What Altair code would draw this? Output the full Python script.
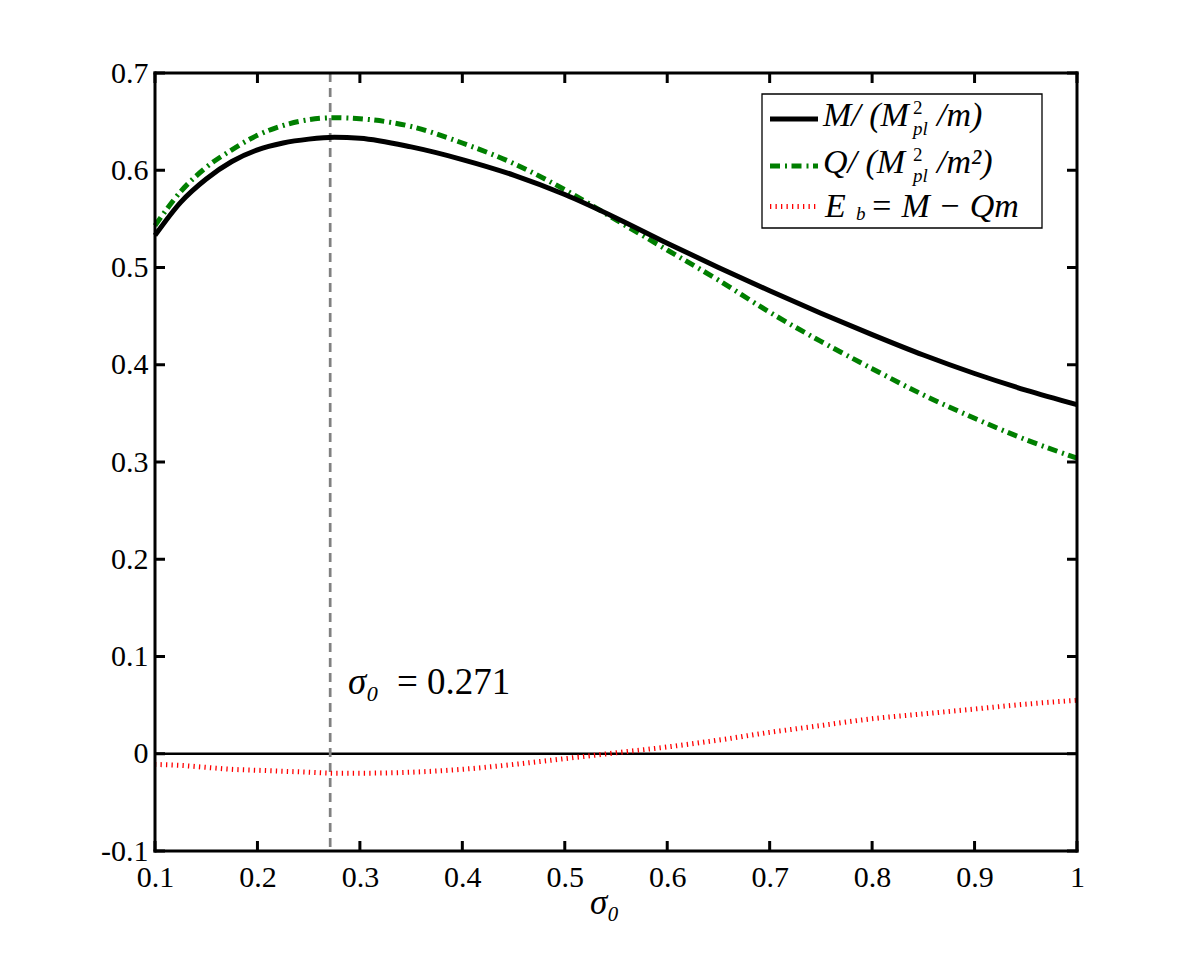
import altair as alt
import pandas as pd

# ---- data ----
sigma = [0.10, 0.125, 0.15, 0.175, 0.20, 0.225, 0.25, 0.275, 0.30, 0.35, 0.40, 0.45,
         0.50, 0.55, 0.60, 0.65, 0.70, 0.75, 0.80, 0.85, 0.90, 0.95, 1.00]
mass = [0.533, 0.567, 0.591, 0.609, 0.621, 0.628, 0.632, 0.634, 0.633, 0.624, 0.611, 0.595,
        0.575, 0.551, 0.525, 0.500, 0.476, 0.453, 0.431, 0.410, 0.391, 0.374, 0.359]
charge = [0.543, 0.578, 0.603, 0.621, 0.636, 0.646, 0.652, 0.654, 0.653, 0.645, 0.628, 0.607,
          0.580, 0.549, 0.518, 0.487, 0.454, 0.424, 0.396, 0.369, 0.345, 0.323, 0.304]
binding = [-0.011, -0.012, -0.014, -0.016, -0.017, -0.018, -0.019, -0.020, -0.020, -0.019, -0.016, -0.011,
           -0.005, 0.001, 0.007, 0.014, 0.022, 0.029, 0.036, 0.041, 0.046, 0.051, 0.055]
x_ticks = [0.1, 0.2, 0.3, 0.4, 0.5, 0.6, 0.7, 0.8, 0.9, 1.0]
y_ticks = [-0.1, 0.0, 0.1, 0.2, 0.3, 0.4, 0.5, 0.6, 0.7]
sigma_star = [0.271]
zero_level = [0.0]

# text pieces (legend, annotation, axis title): text, pixel x, pixel baseline y, font size
italic_text = ["M/ (M", "pl", "/m)", "Q/ (M", "pl", "/m\u00b2)", "E", "b", "= M \u2212 Qm",
               "\u03c3\u2080", "\u03c3\u2080"]
italic_px = [668, 758, 782, 668, 758, 782, 670, 701, 715, 193, 435]
italic_py = [53, 62, 53, 100, 109, 100, 144, 147, 144, 621, 841]
italic_sz = [34, 19, 34, 34, 19, 34, 34, 19, 34, 37, 35]
upright_text = ["2", "2", "= 0.271"]
upright_px = [758, 758, 242]
upright_py = [41, 88, 621]
upright_sz = [19, 19, 37]

W, H = 922, 778
FONT = "Liberation Serif"

df = pd.DataFrame({"sigma": sigma, "M": mass, "Q": charge, "E": binding})
dxt = pd.DataFrame({"v": x_ticks})
dyt = pd.DataFrame({"v": y_ticks})
one = pd.DataFrame({"a": [0]})
d_it = pd.DataFrame({"t": italic_text, "px": italic_px, "py": italic_py, "sz": italic_sz})
d_up = pd.DataFrame({"t": upright_text, "px": upright_px, "py": upright_py, "sz": upright_sz})

xs = alt.Scale(domain=[0.1, 1.0], nice=False, zero=False)
ys = alt.Scale(domain=[-0.1, 0.7], nice=False, zero=False)
lab = "replace(format(datum.value, '.1~f'), '\u2212', '-')"
xax = alt.Axis(values=x_ticks, ticks=False, domain=False, grid=False, labelFont=FONT,
               labelFontSize=30, labelColor="black", labelPadding=11, labelExpr=lab,
               labelFlush=False, title=None)
yax = alt.Axis(values=y_ticks, ticks=False, domain=False, grid=False, labelFont=FONT,
               labelFontSize=30, labelColor="black", labelPadding=7, labelExpr=lab,
               labelFlush=False, title=None)


def X(f):
    return alt.X(f, type="quantitative", scale=xs, axis=xax)


def Y(f):
    return alt.Y(f, type="quantitative", scale=ys, axis=yax)


black = alt.Chart(df).mark_line(color="black", strokeWidth=5, interpolate="monotone").encode(
    x=X("sigma"), y=Y("M"))
green = alt.Chart(df).mark_line(color="#007f00", strokeWidth=5, strokeDash=[10, 5, 2, 4.5],
                                interpolate="monotone").encode(x=X("sigma"), y=Y("Q"))
red = alt.Chart(df).mark_line(color="#ff0000", strokeWidth=5, strokeDash=[1.3, 4.2],
                              interpolate="monotone").encode(x=X("sigma"), y=Y("E"))

zero = alt.Chart(pd.DataFrame({"z": zero_level})).mark_rule(color="black", strokeWidth=2.5).encode(
    y=Y("z"))
vline = alt.Chart(pd.DataFrame({"s": sigma_star})).mark_rule(
    color="#808080", strokeWidth=2.7, strokeDash=[9, 6]).encode(x=X("s"))

tick_style = dict(color="black", strokeWidth=3)
tb = alt.Chart(dxt).mark_rule(**tick_style).encode(x=X("v"), y=alt.value(H), y2=alt.value(H - 10))
tt = alt.Chart(dxt).mark_rule(**tick_style).encode(x=X("v"), y=alt.value(0), y2=alt.value(10))
tl = alt.Chart(dyt).mark_rule(**tick_style).encode(y=Y("v"), x=alt.value(0), x2=alt.value(10))
tr = alt.Chart(dyt).mark_rule(**tick_style).encode(y=Y("v"), x=alt.value(W), x2=alt.value(W - 10))

# frame around the plot area
frame_style = dict(color="black", strokeWidth=3, strokeCap="square")
f_top = alt.Chart(one).mark_rule(**frame_style).encode(x=alt.value(0), x2=alt.value(W), y=alt.value(0))
f_bot = alt.Chart(one).mark_rule(**frame_style).encode(x=alt.value(0), x2=alt.value(W), y=alt.value(H))
f_lft = alt.Chart(one).mark_rule(**frame_style).encode(y=alt.value(0), y2=alt.value(H), x=alt.value(0))
f_rgt = alt.Chart(one).mark_rule(**frame_style).encode(y=alt.value(0), y2=alt.value(H), x=alt.value(W))
# white spacer that reserves the room above and left of the plot area
spacer = alt.Chart(one).mark_rule(color="white", strokeWidth=0.5).encode(
    x=alt.value(-141.75), x2=alt.value(-140), y=alt.value(-59))

# legend box and line samples
box = alt.Chart(one).mark_rect(fill="white", stroke="black", strokeWidth=1.3).encode(
    x=alt.value(607), x2=alt.value(887), y=alt.value(21), y2=alt.value(155))
lg1 = alt.Chart(one).mark_rule(color="black", strokeWidth=5).encode(
    x=alt.value(615), x2=alt.value(663), y=alt.value(46))
lg2 = alt.Chart(one).mark_rule(color="#007f00", strokeWidth=5, strokeDash=[10, 5, 2, 4.5]).encode(
    x=alt.value(615), x2=alt.value(663), y=alt.value(93))
lg3 = alt.Chart(one).mark_rule(color="#ff0000", strokeWidth=5, strokeDash=[1.3, 4.2]).encode(
    x=alt.value(615), x2=alt.value(661), y=alt.value(133.5))


def text_layer(d, italic):
    kw = dict(font=FONT, align="left", baseline="alphabetic", color="black")
    if italic:
        kw["fontStyle"] = "italic"
    return alt.Chart(d).mark_text(**kw).encode(
        x=alt.X("px:Q", scale=None, axis=None),
        y=alt.Y("py:Q", scale=None, axis=None),
        size=alt.Size("sz:Q", scale=None, legend=None),
        text="t:N")


chart = alt.layer(
    spacer, zero, vline, red, green, black, tb, tt, tl, tr, f_top, f_bot, f_lft, f_rgt,
    box, lg1, lg2, lg3, text_layer(d_it, True), text_layer(d_up, False)
).properties(width=W, height=H)

chart.save("out.html", embed_options={"renderer": "svg", "actions": False})
